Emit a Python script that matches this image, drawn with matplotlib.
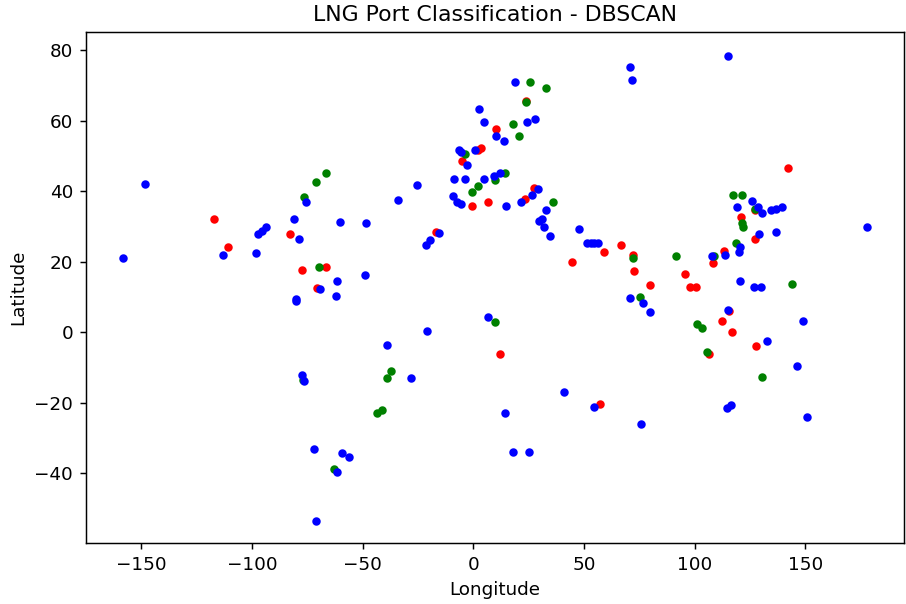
import matplotlib
matplotlib.use("Agg")
import matplotlib.pyplot as plt

# Cluster: blue
blue_lon = [-148.5, -158.1, -113.2, -98.0, -97.4, -95.6, -93.6, -81.1, -78.8, -75.7,
            -60.4, -48.5, -61.4, -48.8, -69.2, -80.2, -80.0, -62.0, -77.5, -76.5,
            -71.9, -59.2, -56.2, -61.6, -71.2, -34.2, -25.4, -15.6, -21.2, -19.4,
            -9.3, -7.3, -5.5, 14.5, -8.6, -3.6, 4.6, 9.5, 12.2, -6.3,
            -5.5, -2.7, 0.5, 2.6, 5.0, 10.0, 13.7, 24.3, 27.6, 18.6,
            29.1, 21.6, 26.6, 32.9, 29.6, 31.1, 32.0, 34.4, 47.7, 51.4,
            53.0, 54.6, 56.3, 70.9, 71.6, 115.2, 125.8, 119.2, 128.7, 130.3,
            134.4, 136.5, 139.3, 129.1, 136.6, 177.6, 120.3, 119.8, 113.8, 107.8,
            120.3, 126.7, 129.7, 70.7, 76.6, 79.7, 115.0, 132.4, 149.0, 146.3,
            114.6, 116.2, 150.9, 75.7, -39.0, -20.9, -28.2, 6.8, 14.1, 18.0,
            25.2, 41.0, 54.6]
blue_lat = [41.9, 21.0, 22.0, 22.5, 27.8, 28.7, 29.9, 32.0, 26.3, 36.9,
            31.2, 30.8, 14.5, 16.1, 12.1, 9.4, 8.8, 10.3, -12.1, -13.8,
            -33.1, -34.4, -35.3, -39.6, -53.5, 37.4, 41.6, 28.2, 24.8, 26.1,
            38.5, 37.0, 36.3, 35.8, 43.4, 43.4, 43.4, 44.2, 45.2, 51.7,
            51.0, 47.3, 51.5, 63.4, 59.5, 55.5, 54.3, 59.5, 60.4, 71.0,
            40.7, 37.0, 38.8, 34.5, 31.5, 32.0, 29.8, 27.3, 29.1, 25.3,
            25.4, 25.3, 25.3, 75.1, 71.4, 78.4, 37.3, 35.6, 35.6, 33.9,
            34.6, 34.9, 35.6, 27.7, 28.3, 29.8, 24.2, 22.8, 21.9, 21.7,
            14.6, 12.8, 12.8, 9.8, 8.2, 5.7, 6.3, -2.6, 3.2, -9.5,
            -21.4, -20.6, -24.1, -26.1, -3.6, 0.4, -13.1, 4.4, -23.0, -34.1,
            -34.1, -16.9, -21.1]

# Cluster: green
green_lon = [-76.6, -71.3, -66.4, -69.7, -62.9, -76.8, -3.6, 9.9, 14.1, 1.9,
             -0.5, 20.6, 17.7, 25.4, 32.7, 35.9, 117.1, 121.3, 127.0, 121.5,
             121.9, 118.5, 108.7, 91.3, 72.1, 143.8, 75.2, 101.2, 103.3, 105.4,
             130.3, -37.2, -39.0, -43.6, -41.1, 9.6, 23.7]
green_lat = [38.4, 42.5, 45.2, 18.4, -38.9, -13.5, 50.4, 43.2, 45.2, 41.3,
             39.6, 55.7, 58.9, 71.0, 69.1, 36.9, 38.9, 38.9, 34.8, 30.8,
             29.7, 25.3, 21.5, 21.5, 21.1, 13.6, 9.9, 2.3, 1.2, -5.6,
             -12.6, -11.0, -13.1, -23.0, -22.1, 2.9, 65.3]

# Cluster: red
red_lon = [-117.1, -110.7, -82.7, -77.5, -66.4, -70.7, -17.0, -5.0, 2.1, 3.5,
           10.0, 23.7, -0.6, 6.6, 27.5, 23.3, 66.8, 58.9, 44.4, 142.0,
           127.2, 120.9, 127.3, 113.1, 108.4, 71.9, 72.7, 95.6, 79.9, 98.0,
           100.5, 115.5, 112.3, 117.0, 127.6, 106.2, 11.8, 57.1]
red_lat = [32.0, 24.2, 27.9, 17.7, 18.4, 12.5, 28.5, 48.5, 51.5, 52.1,
           57.6, 65.6, 35.9, 37.0, 41.0, 37.8, 24.8, 22.7, 20.0, 46.5,
           34.6, 32.5, 26.3, 23.0, 19.6, 21.9, 17.4, 16.6, 13.3, 12.7,
           12.7, 6.0, 3.2, -0.1, -3.8, -6.2, -6.3, -20.3]

DPI = 132
fig = plt.figure(figsize=(906 / DPI, 604 / DPI), dpi=DPI)
ax = fig.add_axes([86 / 906, 1 - 543 / 604, (904 - 86) / 906, (543 - 32) / 604])

ax.scatter(red_lon, red_lat, c="red", s=13)
ax.scatter(green_lon, green_lat, c="green", s=13)
ax.scatter(blue_lon, blue_lat, c="blue", s=13)

ax.set_xlim(-175.0, 194.5)
ax.set_ylim(-59.8, 85.1)

ax.set_title("LNG Port Classification - DBSCAN")
ax.set_xlabel("Longitude")
ax.set_ylabel("Latitude")

fig.savefig("out.png", dpi=DPI)
